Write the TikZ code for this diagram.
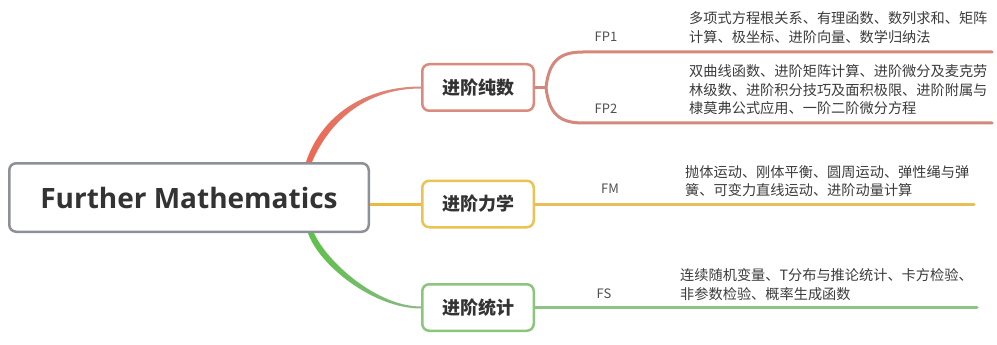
\documentclass[tikz,border=0pt]{standalone}
\usepackage{fontspec}
\newfontfamily\cjk{Noto Sans CJK SC}
\newfontfamily\osans{Open Sans}
\usetikzlibrary{calc}
\definecolor{graybd}{HTML}{8E9099}
\definecolor{txt}{HTML}{333333}
\definecolor{txtb}{HTML}{3C3C3C}
\definecolor{lbl}{HTML}{505050}
\definecolor{redA}{HTML}{EC6854}
\definecolor{redB}{HTML}{D98F84}
\definecolor{redbd}{HTML}{DB8A7E}
\definecolor{redln}{HTML}{D4887C}
\definecolor{yelA}{HTML}{EAB93F}
\definecolor{yelbd}{HTML}{EBC353}
\definecolor{yelln}{HTML}{E7BE58}
\definecolor{grnA}{HTML}{5EC04B}
\definecolor{grnB}{HTML}{8DB889}
\definecolor{grnbd}{HTML}{8CC57C}
\definecolor{grnln}{HTML}{8EC483}
\tikzset{
  topic/.style={draw, line width=2.5pt, rounded corners=7pt, minimum width=111.5pt,
    minimum height=46.5pt, inner sep=0pt, fill=white, text=txt,
    font=\cjk\bfseries\fontsize{18}{20}\selectfont},
  desc/.style={anchor=west, align=left, inner sep=0pt, text=txtb,
    font=\cjk\fontsize{14.2}{18.5}\selectfont},
  lab/.style={inner sep=0pt, text=lbl, font=\cjk\fontsize{13}{15}\selectfont},
  branch/.style={line width=3pt, line cap=round}
}
\begin{document}
\begin{tikzpicture}[x=1pt,y=-1pt]
\useasboundingbox[fill=white] (0,0) rectangle (997,345);

% central node
\node[draw=graybd, line width=2.5pt, rounded corners=7pt, minimum width=359.5pt,
  minimum height=68.5pt, inner sep=0pt, fill=white, text=txt,
  font=\osans\bfseries\fontsize{28}{30}\selectfont] (c) at (189,197.5) {Further Mathematics};

% main topics
\node[topic, draw=redbd] (fp) at (478,87.5) {进阶纯数};
\node[topic, draw=yelbd] (fm) at (478,204) {进阶力学};
\node[topic, draw=grnbd] (fs) at (478,307.5) {进阶统计};

% connectors from centre
\coordinate (r0) at ([xshift=-61pt]c.north east);
\coordinate (g0) at ([xshift=-59pt]c.south east);
\shade[left color=redA, right color=redB]
  ([xshift=-3pt]r0) .. controls +(15,-45) and +(-58,0) .. ([yshift=1pt]fp.west)
  -- ([yshift=-1pt]fp.west) .. controls +(-54,0) and +(18,-42) .. ([xshift=3pt]r0) -- cycle;
\shade[left color=grnA, right color=grnB]
  ([xshift=-3pt]g0) .. controls +(11,32) and +(-48,0) .. ([yshift=-1pt]fs.west)
  -- ([yshift=1pt]fs.west) .. controls +(-44,0) and +(13,29) .. ([xshift=3pt]g0) -- cycle;
\draw[yelA, line width=3pt] (c.east |- fm.west) -- (fm.west);

% FP bracket
\coordinate (fpj) at ([xshift=11pt]fp.east);
\coordinate (fp1s) at (583,52);
\coordinate (fp1e) at (992,52);
\coordinate (fp2s) at (583,123);
\coordinate (fp2e) at (992,123);
\draw[redln, line width=3pt] (fp.east) -- (fpj);
\draw[redln, branch] (fpj) .. controls +(3,-26) and +(-24,0) .. (fp1s) -- (fp1e);
\draw[redln, branch] (fpj) .. controls +(3,26) and +(-24,0) .. (fp2s) -- (fp2e);

% FM, FS lines
\coordinate (fme) at (974,204);
\coordinate (fse) at (977,307.5);
\draw[yelln, branch] (fm.east) -- (fme);
\draw[grnln, branch] (fs.east) -- (fse);

% labels
\node[lab] (l1) at (606,37) {FP1};
\node[lab] (l2) at (606,109) {FP2};
\node[lab] (l3) at (610,189) {FM};
\node[lab] (l4) at (604,294) {FS};

% descriptions
\node[desc] (d1) at (689,27.5) {多项式方程根关系、有理函数、数列求和、矩阵\\计算、极坐标、进阶向量、数学归纳法};
\node[desc] (d2) at (689,90) {双曲线函数、进阶矩阵计算、进阶微分及麦克劳\\林级数、进阶积分技巧及面积极限、进阶附属与\\棣莫弗公式应用、一阶二阶微分方程};
\node[desc] (d3) at (685,181) {抛体运动、刚体平衡、圆周运动、弹性绳与弹\\簧、可变力直线运动、进阶动量计算};
\node[desc] (d4) at (680,284.5) {连续随机变量、T分布与推论统计、卡方检验、\\非参数检验、概率生成函数};
\end{tikzpicture}
\end{document}
